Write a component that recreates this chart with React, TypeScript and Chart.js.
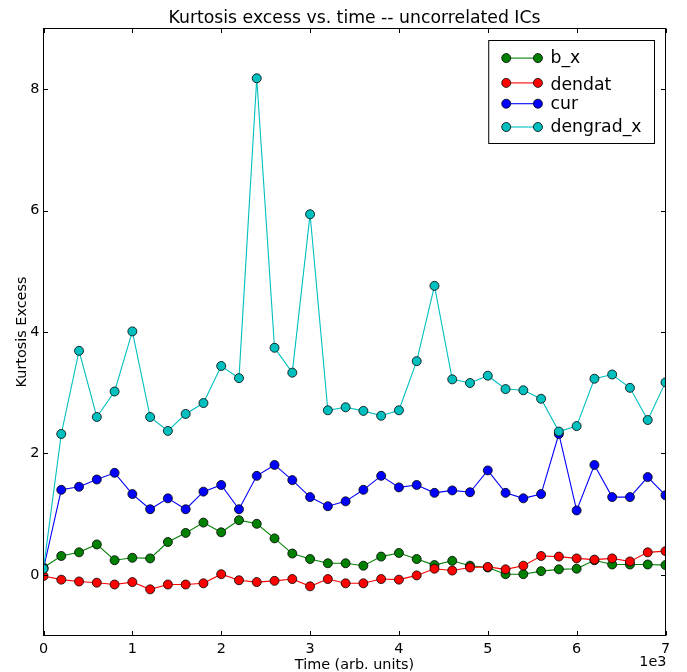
import { useEffect, useRef } from "react";
import { Chart, registerables } from "chart.js";

Chart.register(...registerables);

// Time samples, in units of 1e3 (arb. units)
const timeK = [
  0.0, 0.2, 0.4, 0.6, 0.8, 1.0, 1.2, 1.4, 1.6, 1.8, 2.0, 2.2, 2.4, 2.6, 2.8, 3.0, 3.2, 3.4,
  3.6, 3.8, 4.0, 4.2, 4.4, 4.6, 4.8, 5.0, 5.2, 5.4, 5.6, 5.8, 6.0, 6.2, 6.4, 6.6, 6.8, 7.0,
];

// Kurtosis excess per independent component
const bX = [
  0.12, 0.31, 0.37, 0.5, 0.24, 0.28, 0.27, 0.54, 0.69, 0.86, 0.7, 0.9, 0.84, 0.6, 0.35, 0.26, 0.19, 0.19,
  0.15, 0.3, 0.36, 0.26, 0.16, 0.23, 0.15, 0.12, 0.01, 0.01, 0.06, 0.09, 0.1, 0.24, 0.17, 0.17, 0.17, 0.16,
];
const dendat = [
  -0.02, -0.08, -0.11, -0.13, -0.16, -0.12, -0.24, -0.16, -0.16, -0.14, 0.01, -0.09, -0.12, -0.1, -0.07, -0.19, -0.07, -0.14,
  -0.14, -0.07, -0.08, -0.01, 0.1, 0.07, 0.12, 0.13, 0.09, 0.15, 0.31, 0.3, 0.27, 0.25, 0.27, 0.22, 0.37, 0.39,
];
const cur = [
  0.1, 1.4, 1.45, 1.57, 1.68, 1.33, 1.08, 1.26, 1.08, 1.37, 1.48, 1.08, 1.63, 1.81, 1.56, 1.28, 1.13, 1.21,
  1.4, 1.63, 1.44, 1.48, 1.35, 1.39, 1.36, 1.72, 1.35, 1.26, 1.33, 2.32, 1.06, 1.81, 1.28, 1.28, 1.61, 1.31,
];
const dengradX = [
  0.1, 2.32, 3.69, 2.6, 3.02, 4.01, 2.6, 2.37, 2.65, 2.83, 3.44, 3.24, 8.18, 3.74, 3.33, 5.94, 2.71, 2.76,
  2.7, 2.62, 2.71, 3.52, 4.76, 3.22, 3.16, 3.28, 3.06, 3.04, 2.9, 2.36, 2.45, 3.23, 3.3, 3.08, 2.55, 3.17,
];

const seriesNames = ["b_x", "dendat", "cur", "dengrad_x"];
const seriesValues = [bX, dendat, cur, dengradX];
const seriesColors = ["#008000", "#ff0000", "#0000ff", "#00bfbf"];

const xTickValues = [0, 1, 2, 3, 4, 5, 6, 7];
const yTickValues = [0, 2, 4, 6, 8];

const FONT = '"DejaVu Sans", "Liberation Sans", sans-serif';
const MARKER_R = 4.5;
const LINE_W = 1.1;

// Axes frame, inward ticks on all four sides, title, axis labels, offset text and legend
const axesDecor = {
  id: "axesDecor",
  afterDatasetsDraw(chart: any) {
    const { ctx, chartArea: a } = chart;
    const xs = chart.scales.x;
    const ys = chart.scales.y;
    ctx.save();
    ctx.strokeStyle = "#000";
    ctx.lineWidth = 1;
    ctx.strokeRect(a.left, a.top, a.right - a.left, a.bottom - a.top);

    const tl = 4.5;
    ctx.beginPath();
    for (const v of xTickValues) {
      const px = Math.round(xs.getPixelForValue(v)) + 0.5;
      ctx.moveTo(px, a.bottom);
      ctx.lineTo(px, a.bottom - tl);
      ctx.moveTo(px, a.top);
      ctx.lineTo(px, a.top + tl);
    }
    for (const v of yTickValues) {
      const py = Math.round(ys.getPixelForValue(v)) + 0.5;
      ctx.moveTo(a.left, py);
      ctx.lineTo(a.left + tl, py);
      ctx.moveTo(a.right, py);
      ctx.lineTo(a.right - tl, py);
    }
    ctx.stroke();

    const cx = (a.left + a.right) / 2;
    ctx.fillStyle = "#000";
    ctx.textBaseline = "alphabetic";

    // title
    ctx.font = `17.28px ${FONT}`;
    ctx.textAlign = "center";
    ctx.fillText("Kurtosis excess vs. time -- uncorrelated ICs", cx, 22.7);

    // axis labels
    ctx.font = `14.4px ${FONT}`;
    ctx.fillText("Time (arb. units)", cx, 668.5);
    ctx.save();
    ctx.translate(25.5, (a.top + a.bottom) / 2);
    ctx.rotate(-Math.PI / 2);
    ctx.fillText("Kurtosis Excess", 0, 0);
    ctx.restore();

    // offset text for the x axis
    ctx.textAlign = "right";
    ctx.fillText("1e3", a.right + 1, 665.5);

    // legend
    ctx.font = `17.28px ${FONT}`;
    const rows = chart.data.datasets.map((ds: any) => {
      const m = ctx.measureText(ds.label);
      return {
        label: ds.label,
        color: ds.borderColor,
        asc: m.actualBoundingBoxAscent,
        desc: m.actualBoundingBoxDescent,
        w: m.width,
      };
    });
    const maxW = Math.max(...rows.map((r: any) => r.w));
    const padL = 17.5;
    const handleLen = 31.7;
    const gap = 12.6;
    const padR = 13;
    const spacing = 8.3;
    const boxRight = Math.round(a.right - 12) + 0.5;
    const boxTop = Math.round(a.top + 11.5) + 0.5;
    const boxLeft = boxRight - (padL + handleLen + gap + maxW + padR);
    let yCursor = boxTop + 8.1;
    const layout = rows.map((r: any) => {
      const h = r.asc + r.desc;
      const mid = yCursor + h / 2;
      const base = yCursor + r.asc;
      yCursor += h + spacing;
      return { ...r, mid, base };
    });
    const boxBottom = yCursor - spacing + 7;
    ctx.fillStyle = "#fff";
    ctx.fillRect(boxLeft, boxTop, boxRight - boxLeft, boxBottom - boxTop);
    ctx.strokeStyle = "#000";
    ctx.lineWidth = 1;
    ctx.strokeRect(boxLeft, boxTop, boxRight - boxLeft, boxBottom - boxTop);

    const hx0 = boxLeft + padL;
    const hx1 = hx0 + handleLen;
    for (const r of layout) {
      ctx.strokeStyle = r.color;
      ctx.lineWidth = LINE_W;
      ctx.beginPath();
      ctx.moveTo(hx0, r.mid);
      ctx.lineTo(hx1, r.mid);
      ctx.stroke();
      for (const mx of [hx0, hx1]) {
        ctx.beginPath();
        ctx.arc(mx, r.mid, MARKER_R, 0, Math.PI * 2);
        ctx.fillStyle = r.color;
        ctx.fill();
        ctx.strokeStyle = "#000";
        ctx.lineWidth = 0.8;
        ctx.stroke();
      }
      ctx.fillStyle = "#000";
      ctx.textAlign = "left";
      ctx.fillText(r.label, hx1 + gap, r.base);
    }
    ctx.restore();
  },
};

export default function App() {
  const canvasRef = useRef<HTMLCanvasElement | null>(null);

  useEffect(() => {
    const canvas = canvasRef.current;
    if (!canvas) return;
    const datasets = seriesNames.map((name, i) => ({
      label: name,
      data: timeK.map((t, j) => ({ x: t, y: seriesValues[i][j] })),
      borderColor: seriesColors[i],
      backgroundColor: seriesColors[i],
      borderWidth: LINE_W,
      pointRadius: MARKER_R,
      pointHoverRadius: MARKER_R,
      pointBackgroundColor: seriesColors[i],
      pointBorderColor: "#000",
      pointBorderWidth: 0.8,
      tension: 0,
      fill: false,
      clip: 0,
      order: seriesNames.length - 1 - i,
    }));

    const chart = new Chart(canvas, {
      type: "line",
      data: { datasets },
      options: {
        animation: false,
        responsive: false,
        devicePixelRatio: 1,
        events: [],
        layout: { padding: { top: 28.5, right: 21.5, left: 0, bottom: 0 } },
        plugins: {
          legend: { display: false },
          title: { display: false },
          tooltip: { enabled: false },
        },
        scales: {
          x: {
            type: "linear",
            min: 0,
            max: 7,
            grid: { display: false, drawTicks: false },
            border: { display: false },
            afterFit: (s: any) => {
              s.height = 36.5;
            },
            afterBuildTicks: (s: any) => {
              s.ticks = xTickValues.map((v) => ({ value: v }));
            },
            ticks: {
              padding: 5,
              maxRotation: 0,
              color: "#000",
              font: { family: FONT, size: 14.4 },
              callback: (v: any) => String(v),
            },
          },
          y: {
            type: "linear",
            min: -1,
            max: 9,
            grid: { display: false, drawTicks: false },
            border: { display: false },
            afterFit: (s: any) => {
              s.width = 43.5;
            },
            afterBuildTicks: (s: any) => {
              s.ticks = yTickValues.map((v) => ({ value: v }));
            },
            ticks: {
              padding: 4.2,
              color: "#000",
              font: { family: FONT, size: 14.4 },
              callback: (v: any) => String(v),
            },
          },
        },
      },
      plugins: [axesDecor],
    });
    return () => chart.destroy();
  }, []);

  return (
    <div style={{ position: "absolute", left: 0, top: 0, width: 687, height: 672, background: "#fff" }}>
      <canvas ref={canvasRef} width={687} height={672} style={{ width: 687, height: 672, display: "block" }} />
    </div>
  );
}
